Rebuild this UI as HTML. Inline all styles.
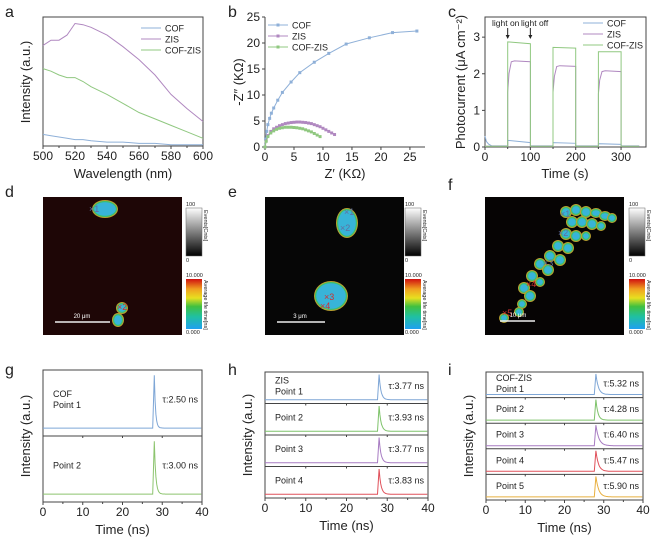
<!DOCTYPE html>
<html><head><meta charset="utf-8"><style>
body{margin:0;background:#fff}
svg{display:block;font-family:"Liberation Sans",Arial,sans-serif}
</style></head><body>
<svg id="fig" width="662" height="550" viewBox="0 0 662 550" xmlns="http://www.w3.org/2000/svg">
<defs>
<linearGradient id="gray" x1="0" y1="0" x2="0" y2="1"><stop offset="0" stop-color="#fff"/><stop offset="1" stop-color="#000"/></linearGradient>
<linearGradient id="rainbow" x1="0" y1="0" x2="0" y2="1"><stop offset="0" stop-color="#d01010"/><stop offset="0.2" stop-color="#f0a020"/><stop offset="0.38" stop-color="#e8e020"/><stop offset="0.55" stop-color="#40c040"/><stop offset="0.75" stop-color="#20c0a0"/><stop offset="1" stop-color="#20a0f0"/></linearGradient>
</defs>
<g id="root"></g>
</svg>
<script>
// ---- data ----
const aWave=[500,505,510,515,520,525,530,540,550,560,570,580,590,600];
const aZIS=[78,82,82,86,95,94,92,86,77,67,55,40,29,19];
const aCOFZIS=[60,58,55,53,53,50,46,40,33,26,21,16,11,6];
const aCOF=[9,8,7,6,5,5,4,3,3,2,2,1,1,1];
const bCOFx=[0,0.1,0.3,0.5,0.8,1.1,1.5,2.2,3,4.5,6,8.5,11,14,18,22,26.2];
const bCOFy=[0,1.5,3,4.3,5.5,6.5,7.5,9,10.5,12.5,14.3,16.3,18,19.8,21,22,22.3];
const bZISx=[0,0.2,0.5,1,1.5,2,2.5,3,3.5,4,4.5,5,5.5,6,6.5,7,7.5,8,8.5,9,9.5,10,10.5,11,11.5,12];
const bZISy=[0,1.2,2.2,3,3.5,3.8,4.1,4.3,4.5,4.6,4.7,4.75,4.8,4.8,4.75,4.7,4.6,4.5,4.3,4.1,3.9,3.6,3.3,3,2.7,2.4];
const bCZx=[0,0.2,0.5,1,1.5,2,2.5,3,3.5,4,4.5,5,5.5,6,6.5,7,7.5,8,8.5,9,9.5];
const bCZy=[0,1.1,2,2.7,3.1,3.4,3.6,3.7,3.8,3.8,3.8,3.75,3.7,3.6,3.5,3.3,3.1,2.9,2.6,2.3,2];
const cOn=[50,150,250];const cOff=[100,200,300];
const cCZ=[[2.87,2.82],[2.72,2.7],[2.6,2.6]];
const cZIS=[[1.5,2.35,2.33],[1.5,2.22,2.2],[1.45,2.08,2.06]];
const cCOF=[[0.18,0.12],[0.12,0.1],[0.09,0.07]];
const gTau=[2.50,3.00];const gLabels=["COF\nPoint 1","Point 2"];
const hTau=[3.77,3.93,3.77,3.83];const hLabels=["ZIS\nPoint 1","Point 2","Point 3","Point 4"];
const iTau=[5.32,4.28,6.40,5.47,5.90];const iLabels=["COF-ZIS\nPoint 1","Point 2","Point 3","Point 4","Point 5"];
const peakT=28;
// ---- helpers ----
const NS="http://www.w3.org/2000/svg";const root=document.getElementById('root');
function mk(tag,attrs,parent,text){const e=document.createElementNS(NS,tag);for(const k in attrs)e.setAttribute(k,attrs[k]);if(text!==undefined)e.textContent=text;(parent||root).appendChild(e);return e;}
function scale(d0,d1,r0,r1){return v=>r0+(v-d0)/(d1-d0)*(r1-r0);}
function txt(x,y,s,size,anchor,parent,extra){const t=mk('text',Object.assign({x:x,y:y,'font-size':size,'text-anchor':anchor||'start',fill:'#222'},extra||{}),parent,s);return t;}
function box(x0,y0,x1,y1,name){const r=mk('rect',{x:x0,y:y0,width:x1-x0,height:y1-y0,fill:'none',stroke:'#444','stroke-width':1});}
function xTicks(sx,y,ticks,minor,name){const g=mk('g',{});
 ticks.forEach(v=>{mk('line',{x1:sx(v),x2:sx(v),y1:y,y2:y+3,stroke:'#444'},g);txt(sx(v),y+14,String(v),12,'middle',g);});
 (minor||[]).forEach(v=>mk('line',{x1:sx(v),x2:sx(v),y1:y,y2:y+2,stroke:'#444'},g));}
function yTicks(sy,x,ticks,name){const g=mk('g',{});
 ticks.forEach(v=>{mk('line',{x1:x-3,x2:x,y1:sy(v),y2:sy(v),stroke:'#444'},g);txt(x-5,sy(v)+4,String(v),12,'end',g);});}
function line(xs,ys,sx,sy,color,name,w){const d=xs.map((x,i)=>(i?'L':'M')+sx(x).toFixed(1)+','+sy(ys[i]).toFixed(1)).join('');const p=mk('path',{d:d,fill:'none',stroke:color,'stroke-width':w||1});return p;}
function panelLabel(x,y,s){const t=txt(x,y,s,16,'start');}
function yTitle(x,y,s,name){const t=txt(x,y,s,13,'middle',root,{transform:'rotate(-90 '+x+' '+y+')'});return t;}
function xTitle(x,y,s,name){const t=txt(x,y,s,13,'middle');}
function legend(x,y,items,name,marker){const g=mk('g',{});
 items.forEach((it,i)=>{const yy=y+i*11;mk('line',{x1:x,x2:x+20,y1:yy,y2:yy,stroke:it[1]},g);if(marker)mk('rect',{x:x+8.5,y:yy-1.5,width:3,height:3,fill:it[1]},g);txt(x+24,yy+3.5,it[0],9,'start',g);});}
const BL='#8fb0d8',PU='#b088c0',GR='#90c880';
// ---- panel a ----
panelLabel(5,17,'a');
{const sx=scale(500,600,43,203),sy=scale(0,100,146,17);
box(43,17,203,146,'panel-a-plot-area');
xTicks(sx,146,[500,520,540,560,580,600],[510,530,550,570,590],'panel-a-x-axis');
line(aWave,aCOF,sx,sy,BL,'line-a-cof');line(aWave,aZIS,sx,sy,PU,'line-a-zis');line(aWave,aCOFZIS,sx,sy,GR,'line-a-cofzis');
legend(141,28,[['COF',BL],['ZIS',PU],['COF-ZIS',GR]],'legend-a');
xTitle(123,178,'Wavelength (nm)','x-axis-title-a');yTitle(30,82,'Intensity (a.u.)','y-axis-title-a');}
// ---- panel b ----
panelLabel(228,17,'b');
{const sx=scale(0,27.6,265,425),sy=scale(0,25,147,17);
mk('line',{x1:265,x2:265,y1:17,y2:147,stroke:'#444'});mk('line',{x1:265,x2:425,y1:147,y2:147,stroke:'#444'});
xTicks(sx,147,[0,5,10,15,20,25],[],'panel-b-x-axis');yTicks(sy,265,[0,5,10,15,20,25],'panel-b-y-axis');
[[bCOFx,bCOFy,BL,'cof'],[bZISx,bZISy,PU,'zis'],[bCZx,bCZy,GR,'cofzis']].forEach(s=>{line(s[0],s[1],sx,sy,s[2],'line-b-'+s[3]);
 s[0].forEach((x,i)=>{const m=mk('rect',{x:sx(x)-1.5,y:sy(s[1][i])-1.5,width:3,height:3,fill:s[2]});});});
legend(268,25,[['COF',BL],['ZIS',PU],['COF-ZIS',GR]],'legend-b',true);
xTitle(345,178,'Z\u2032 (K\u03a9)','x-axis-title-b');yTitle(243,82,'-Z\u2033 (K\u03a9)','y-axis-title-b');}
// ---- panel c ----
panelLabel(448,17,'c');
{const sx=scale(0,355,485,646),sy=scale(0,3.55,147,17);
box(485,17,646,147,'panel-c-plot-area');
xTicks(sx,147,[0,100,200,300],[50,150,250],'panel-c-x-axis');yTicks(sy,485,[0,1,2,3],'panel-c-y-axis');
function build(levels,base,color,name,rise){let xs=[0,3,8,15,25,cOn[0]],ys=[base[0],base[1],base[2],base[3],base[3],base[3]];
 cOn.forEach((on,k)=>{const off=cOff[k],L=levels[k];xs.push(on);ys.push(base[3]);
  if(rise){xs.push(on,on+3,on+8,on+15,off);ys.push(L[0],L[0]+(L[1]-L[0])*0.6,L[1]*0.99,L[1],L[2]);}
  else{xs.push(on,off);ys.push(L[0],L[1]);}
  xs.push(off,k<2?cOn[k+1]:340);ys.push(base[3],base[3]);});
 line(xs,ys,sx,sy,color,name);}
build(cCOF,[0.3,0.15,0.08,0.03],BL,'line-c-cof',false);
build(cZIS,[0.02,0.02,0.02,0.02],PU,'line-c-zis',true);
build(cCZ,[0.02,0.02,0.02,0.02],GR,'line-c-cofzis',false);
const ann=mk('g',{});
txt(492,26,'light on',8.5,'start',ann);txt(521,26,'light off',8.5,'start',ann);
[sx(50),sx(100)].forEach(x=>{mk('line',{x1:x,x2:x,y1:28,y2:38,stroke:'#222'},ann);mk('path',{d:`M${x-2},35L${x},39L${x+2},35Z`,fill:'#222'},ann);});
legend(583,23,[['COF',BL],['ZIS',PU],['COF-ZIS',GR]],'legend-c');
xTitle(565,178,'Time (s)','x-axis-title-c');yTitle(465,82,'Photocurrent (\u03bcA cm\u207b\u00b2)','y-axis-title-c');}
// ---- images d,e,f ----
function colorbars(x,name){const g=mk('g',{});
 mk('rect',{x:x,y:208,width:16,height:48,fill:'url(#gray)',stroke:'#666','stroke-width':0.5},g);txt(x,206,'100',5.5,'start',g);txt(x,262,'0',5.5,'start',g);
 txt(x+18,210,'Events[Cnts]',5.5,'start',g,{transform:`rotate(90 ${x+18} 210)`});
 mk('rect',{x:x,y:279,width:16,height:50,fill:'url(#rainbow)'},g);txt(x,277,'10.000',5.5,'start',g);txt(x,334,'0.000',5.5,'start',g);
 txt(x+18,280,'Average life time[ns]',5.5,'start',g,{transform:`rotate(90 ${x+18} 280)`});}
function blob(g,cx,cy,rx,ry){mk('ellipse',{cx:cx,cy:cy,rx:rx+1,ry:ry+1,fill:'#b8a030'},g);mk('ellipse',{cx:cx,cy:cy,rx:rx,ry:ry,fill:'#38c070'},g);mk('ellipse',{cx:cx,cy:cy,rx:rx-1.2,ry:ry-1.2,fill:'#38b4d8'},g);}
function mark(g,x,y,s,c){txt(x,y,'\u00d7'+s,9,'start',g,{fill:c||'#6070a0'});}
function image(x0,name,bg){const g=mk('g',{});mk('rect',{x:x0,y:197,width:139,height:138,fill:bg},g);return g;}
panelLabel(5,197,'d');
{const g=image(43,'flim-image-d','#1e0606');blob(g,105,209,12,8);blob(g,122,308,5,5);blob(g,118,320,5,6);mark(g,89,212,'1');mark(g,117,310,'2','#d03030');
 mk('line',{x1:55,x2:110,y1:322,y2:322,stroke:'#eee','stroke-width':1.5},g);txt(82,318,'20 \u03bcm',6,'middle',g,{fill:'#fff'});colorbars(186,'colorbars-d');}
panelLabel(228,197,'e');
{const g=image(265,'flim-image-e','#060606');blob(g,347,223,10,14);blob(g,331,296,16,14);mark(g,344,215,'1');mark(g,340,231,'2');mark(g,324,300,'3','#d03030');mark(g,320,309,'4','#d03030');
 mk('line',{x1:277,x2:325,y1:322,y2:322,stroke:'#eee','stroke-width':1.5},g);txt(300,318,'3 \u03bcm',6,'middle',g,{fill:'#fff'});colorbars(405,'colorbars-e');}
panelLabel(448,190,'f');
{const g=image(485,'flim-image-f','#060404');
 [[566,212,5,5],[576,210,5,5],[586,212,5,5],[596,213,5,4],[605,216,5,4],[612,218,4,4],[572,222,5,5],[582,222,5,5],[592,224,5,5],[601,226,4,4],[566,234,5,5],[576,236,5,5],[586,236,4,4],[558,246,5,5],[568,248,5,5],[550,256,5,5],[560,260,5,5],[540,264,5,5],[548,270,5,5],[532,276,5,5],[540,282,4,4],[524,288,5,5],[530,296,5,5],[522,304,4,4],[519,312,4,4],[504,318,4,4]].forEach(b=>blob(g,b[0],b[1],b[2],b[3]));
 mark(g,560,217,'1');mark(g,558,236,'2');mark(g,543,266,'3');mark(g,526,287,'4','#d03030');mark(g,502,316,'5','#d03030');
 mk('line',{x1:500,x2:535,y1:321,y2:321,stroke:'#eee','stroke-width':1.5},g);txt(518,317,'10 \u03bcm',6,'middle',g,{fill:'#fff'});colorbars(629,'colorbars-f');}
// ---- decay panels ----
function decay(x0,x1,y0,y1,taus,labels,colors,pl,name){
 const sx=scale(0,40,x0,x1);box(x0,y0,x1,y1,name+'-plot-area');
 const n=taus.length,h=(y1-y0)/n;
 taus.forEach((tau,k)=>{const top=y0+k*h,bot=top+h;
  if(k>0){mk('line',{x1:x0,x2:x1,y1:top,y2:top,stroke:'#444'});[10,20,30].forEach(v=>mk('line',{x1:sx(v),x2:sx(v),y1:top,y2:top+2,stroke:'#444'}));}
  const base=bot-h*0.12,amp=h*0.8;const xs=[],ys=[];
  for(let t=0;t<=40;t+=0.2){let v;if(t<peakT-0.4)v=0;else if(t<peakT)v=(t-peakT+0.4)/0.4;else v=Math.exp(-(t-peakT)/(tau*0.12));xs.push(t);ys.push(base-amp*v);}
  line(xs,ys,sx,y=>y,colors[k],name+'-decay-'+(k+1));
  const ls=labels[k].split('\n');ls.forEach((s,j)=>{const t=txt(x0+10,top+h*0.45+(j-(ls.length-1)/2)*11+3,s,9,'start');});
  const tt=txt(x1-4,top+h*0.45+3,'\u03c4:'+tau.toFixed(2)+' ns',9,'end');});
 xTicks(sx,y1,[0,10,20,30,40],[5,15,25,35],name+'-x-axis');
 xTitle((x0+x1)/2,y1+32,'Time (ns)',name+'-x-title');yTitle(x0-13,(y0+y1)/2,'Intensity (a.u.)',name+'-y-title');}
panelLabel(5,375,'g');panelLabel(228,375,'h');panelLabel(448,375,'i');
decay(43,202,370,502,gTau,gLabels,['#7ea6d6','#8cc46e'],'g','panel-g');
decay(265,428,372,498,hTau,hLabels,['#7ea6d6','#7fc36b','#a77bc2','#e0505a'],'h','panel-h');
decay(486,643,372,500,iTau,iLabels,['#7ea6d6','#7fc36b','#a77bc2','#e0505a','#e8b040'],'i','panel-i');
</script>
</body></html>
